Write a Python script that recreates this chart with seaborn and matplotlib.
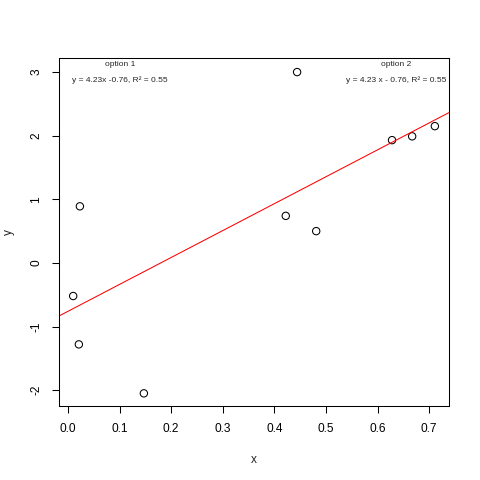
import numpy as np
import pandas as pd
import seaborn as sns
import matplotlib
matplotlib.use('Agg')
import matplotlib.pyplot as plt

# points
x_vals = [0.010, 0.021, 0.023, 0.147, 0.422, 0.444, 0.481, 0.628, 0.667, 0.711]
y_vals = [-0.52, -1.28, 0.89, -2.05, 0.74, 3.00, 0.50, 1.93, 1.99, 2.15]

# fitted line shown in the labels
slope = 4.23
intercept = -0.76
label_1 = ("option 1", "y = 4.23x -0.76, R² = 0.55")
label_2 = ("option 2", "y = 4.23 x - 0.76, R² = 0.55")

df = pd.DataFrame({'x': x_vals, 'y': y_vals})

sns.set_style('white')
plt.rcParams['font.family'] = ['Liberation Sans', 'DejaVu Sans']

fig = plt.figure(figsize=(4.8, 4.8), dpi=100)
ax = fig.add_axes([0.123, 0.154, 0.812, 0.725])

sns.scatterplot(data=df, x='x', y='y', ax=ax, s=28, facecolor='none',
                edgecolor='black', linewidth=0.75, marker='o')

ax.set_xlim(-0.0174, 0.738)
ax.set_ylim(-2.25, 3.22)
ax.axline((0, intercept), slope=slope, color='#ff0000', linewidth=0.75)

ax.set_xticks(np.arange(0, 0.71, 0.1))
ax.set_xticklabels([f'{t:.1f}' for t in np.arange(0, 0.71, 0.1)])
ax.set_yticks([-2, -1, 0, 1, 2, 3])
ax.set_yticklabels(['-2', '-1', '0', '1', '2', '3'], rotation=90, va='center')

ax.tick_params(direction='out', length=5, width=0.75, labelsize=8.6, pad=7,
               bottom=True, left=True, colors='black')
for sp in ax.spines.values():
    sp.set_color('black')
    sp.set_linewidth(0.75)

ax.set_xlabel('x', fontsize=8.6, labelpad=14)
ax.set_ylabel('y', fontsize=8.6, labelpad=11)

# annotations placed in figure fraction (from top-left pixel positions)
for cx, lab in [(120, label_1), (396, label_2)]:
    fig.text(cx / 480, 1 - 65 / 480, lab[0], fontsize=6, ha='center', va='center')
    fig.text(cx / 480, 1 - 80 / 480, lab[1], fontsize=6, ha='center', va='center')

fig.savefig('out.png', dpi=100)
